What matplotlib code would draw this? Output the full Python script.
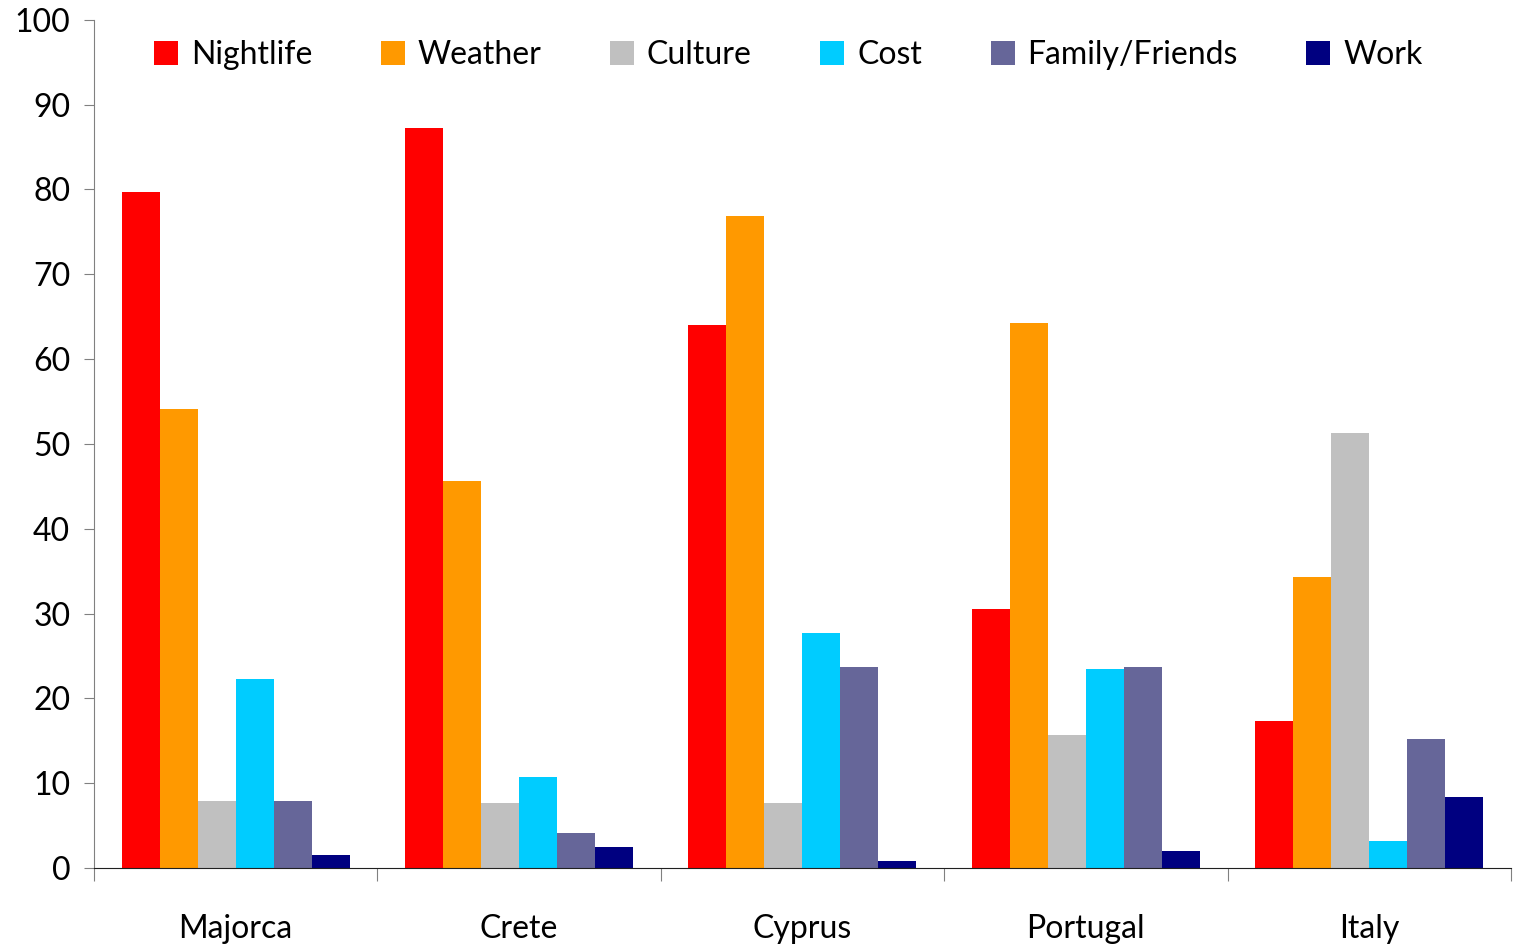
import matplotlib.pyplot as plt
import numpy as np

FONT_SIZE = 23
plt.rcParams['font.family'] = ['Lato', 'DejaVu Sans']

destinations = ["Majorca", "Crete", "Cyprus", "Portugal", "Italy"]
series_names = ["Nightlife", "Weather", "Culture", "Cost", "Family/Friends", "Work"]
colors = ["#ff0000", "#ff9900", "#c0c0c0", "#00ccff", "#666699", "#000080"]

nightlife = [79.7, 87.3, 64.0, 30.5, 17.3]
weather = [54.1, 45.6, 76.9, 64.2, 34.3]
culture = [7.9, 7.7, 7.7, 15.7, 51.3]
cost = [22.3, 10.7, 27.7, 23.5, 3.2]
family = [7.9, 4.1, 23.7, 23.7, 15.2]
work = [1.5, 2.5, 0.8, 2.0, 8.4]

values = [nightlife, weather, culture, cost, family, work]

fig = plt.figure(figsize=(15.14, 9.46), dpi=100)
ax = fig.add_axes([0.062, 0.0825, 0.936, 0.8965])

x = np.arange(len(destinations))
w = 0.134
for i, (name, vals) in enumerate(zip(series_names, values)):
    ax.bar(x + (i - 2.5) * w, vals, width=w, color=colors[i], label=name)

ax.set_xlim(-0.5, len(destinations) - 0.5)
ax.set_ylim(0, 100)
ax.set_yticks(range(0, 101, 10))
ax.tick_params(axis='y', labelsize=FONT_SIZE, length=7, color='#808080', pad=10)

# category ticks on boundaries, labels centered
ax.set_xticks(np.arange(-0.5, len(destinations)), minor=False)
ax.set_xticklabels([])
ax.set_xticks(x, minor=True)
ax.set_xticklabels(destinations, minor=True, fontsize=FONT_SIZE)
ax.tick_params(axis='x', which='major', length=9, color='#808080')
ax.tick_params(axis='x', which='minor', length=0, pad=33)

for s in ['top', 'right']:
    ax.spines[s].set_visible(False)
ax.spines['left'].set_color('#808080')
ax.spines['bottom'].set_color('#202020')

ax.legend(loc='upper center', bbox_to_anchor=(0.49, 1.01), ncol=6, frameon=False,
          fontsize=FONT_SIZE, handlelength=0.75, handleheight=0.75,
          handletextpad=0.4, columnspacing=2.15)

plt.savefig('out.png', dpi=100)
